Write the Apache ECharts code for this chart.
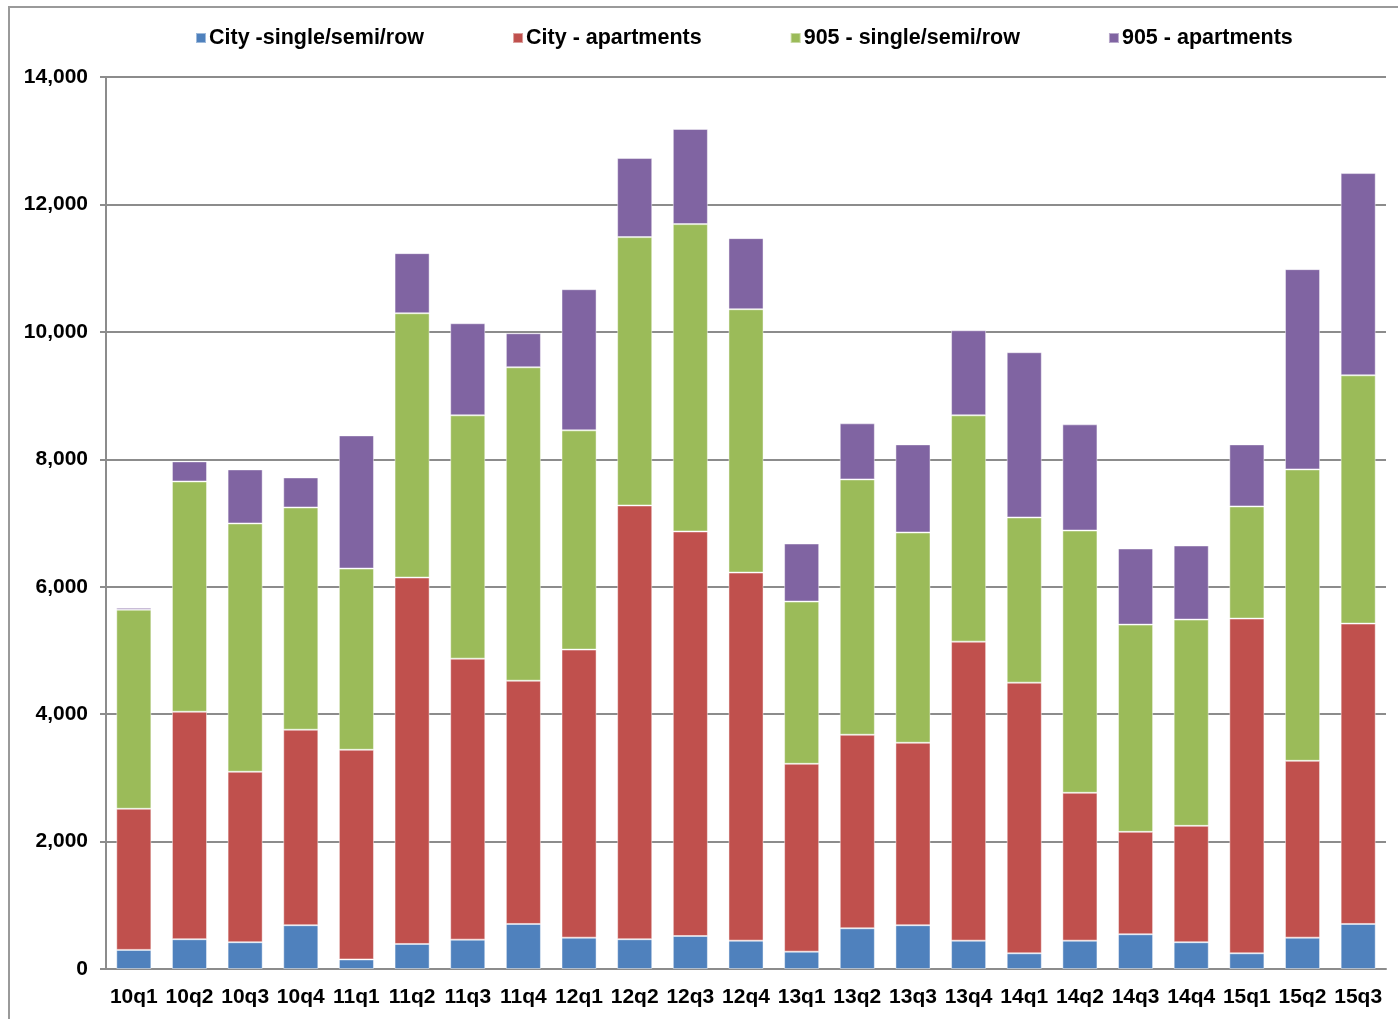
<!DOCTYPE html>
<html>
<head>
<meta charset="utf-8">
<script src="https://cdn.jsdelivr.net/npm/echarts@6/dist/echarts.min.js"></script>
<style>
  html, body { margin: 0; padding: 0; background: #fff; overflow: hidden; }
  .frame {
    position: absolute; left: 8px; top: 6px;
    width: 1400px; height: 1030px;
    border-left: 2px solid #9a9a9a; border-top: 2px solid #9a9a9a;
  }
  #chart { position: absolute; left: 0; top: 0; width: 1398px; height: 1019px; }
</style>
</head>
<body>
<div class="frame"></div>
<div id="chart"></div>
<script>
// quarters
const quarters = ['10q1', '10q2', '10q3', '10q4', '11q1', '11q2', '11q3', '11q4',
  '12q1', '12q2', '12q3', '12q4', '13q1', '13q2', '13q3', '13q4',
  '14q1', '14q2', '14q3', '14q4', '15q1', '15q2', '15q3']

// (units per series, stacked)
const citySingle = [300, 467, 420, 687, 150, 393, 461, 707, 492, 467, 518, 445,
  272, 639, 687, 445, 246, 445, 545, 420, 246, 492, 707]
const cityApts = [2215, 3571, 2676, 3069, 3291, 5751, 4410, 3818, 4521, 6808, 6349, 5777,
  2949, 3038, 2864, 4693, 4248, 2321, 1608, 1827, 5254, 2776, 4714]
const single905 = [3125, 3614, 3897, 3488, 2844, 4148, 3819, 4919, 3441, 4212, 4824, 4133,
  2546, 4007, 3300, 3552, 2593, 4116, 3252, 3237, 1760, 4573, 3897]
const apts905 = [30, 315, 848, 471, 2090, 943, 1445, 534, 2215, 1241, 1493, 1116,
  911, 880, 1383, 1335, 2593, 1666, 1195, 1163, 974, 3143, 3174]

const yTicks = { min: 0, max: 14000, interval: 2000 }

const chart = echarts.init(document.getElementById('chart'))

const labelFont = {
  fontFamily: '"Liberation Sans", Arial, sans-serif',
  fontWeight: 'bold',
  fontSize: 21,
  color: '#000'
}

function bar(name, data, color) {
  return {
    name: name,
    type: 'bar',
    stack: 'total',
    barWidth: '63%',
    data: data,
    itemStyle: {
      color: color,
      borderColor: 'rgba(255,255,255,0.45)',
      borderWidth: 1
    }
  }
}

chart.setOption({
  animation: false,
  backgroundColor: 'transparent',
  legend: {
    left: 190,
    top: 22,
    itemWidth: 10,
    itemHeight: 10,
    itemGap: 88,
    icon: 'rect',
    textStyle: Object.assign({}, labelFont, { fontSize: 21.5, padding: [0, 0, 0, -2] })
  },
  grid: {
    left: 106,
    right: 12,
    top: 77,
    bottom: 50
  },
  xAxis: {
    type: 'category',
    data: quarters,
    axisLine: { lineStyle: { color: '#8c8c8c', width: 2 } },
    axisTick: { show: false },
    axisLabel: Object.assign({}, labelFont, { margin: 18, interval: 0 })
  },
  yAxis: {
    type: 'value',
    min: yTicks.min,
    max: yTicks.max,
    interval: yTicks.interval,
    axisLine: { show: true, lineStyle: { color: '#8c8c8c', width: 2 } },
    axisTick: { show: true, length: 6, lineStyle: { color: '#8c8c8c', width: 2 } },
    axisLabel: Object.assign({}, labelFont, {
      margin: 18,
      formatter: v => v.toLocaleString('en-US')
    }),
    splitLine: { lineStyle: { color: '#8c8c8c', width: 2 } }
  },
  series: [
    bar('City -single/semi/row', citySingle, '#4f81bd'),
    bar('City - apartments', cityApts, '#c0504d'),
    bar('905 - single/semi/row', single905, '#9bbb59'),
    bar('905 - apartments', apts905, '#8064a2')
  ]
})
</script>
</body>
</html>
